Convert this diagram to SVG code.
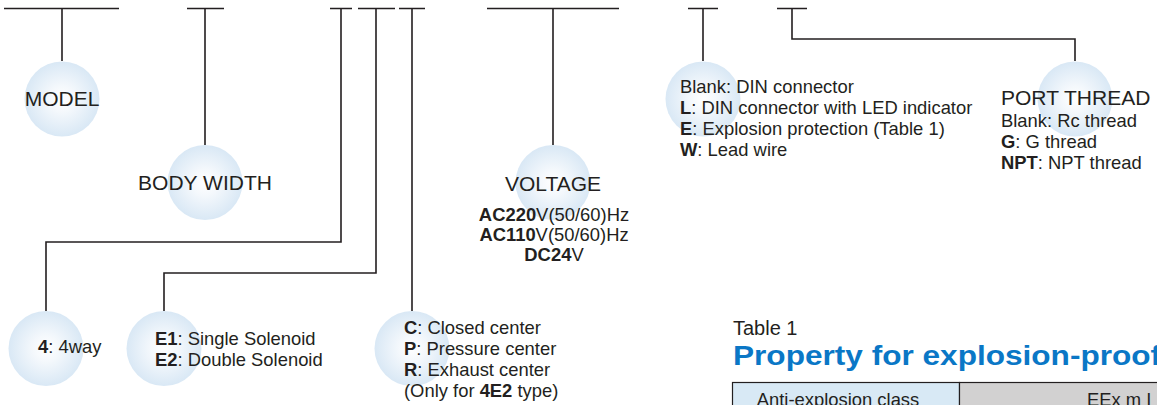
<svg xmlns="http://www.w3.org/2000/svg" width="1157" height="405" viewBox="0 0 1157 405">
<defs>
<radialGradient id="bub" cx="0.5" cy="0.5" r="0.5">
<stop offset="0" stop-color="#ffffff"/>
<stop offset="0.35" stop-color="#f4f8fc"/>
<stop offset="1" stop-color="#d9e8f5"/>
</radialGradient>
<style>
.ln{fill:none;stroke:#231f20;stroke-width:1.6}
.bub{fill:url(#bub)}
.lbl{font-family:"Liberation Sans",Arial,sans-serif;font-size:21px;fill:#231f20}
.txt{font-family:"Liberation Sans",Arial,sans-serif;font-size:18.4px;fill:#231f20}
.b{font-weight:bold}
.title{font-family:"Liberation Sans",Arial,sans-serif;font-size:27px;font-weight:bold;fill:#0a77c6}
</style>
</defs>
<rect width="1157" height="405" fill="#ffffff"/>

<g id="connectors">
<path class="ln" d="M4 8.5H119M62 8.5V61"/>
<path class="ln" d="M187 8.5H224M205 8.5V145"/>
<path class="ln" d="M330 8.5H352M341 8.5V242H46V311"/>
<path class="ln" d="M358 8.5H395M376 8.5V273H164V311"/>
<path class="ln" d="M399 8.5H425M412 8.5V311"/>
<path class="ln" d="M487 8.5H619M553 8.5V145"/>
<path class="ln" d="M688 8.5H718M703 8.5V61"/>
<path class="ln" d="M777 8.5H807M792 8.5V39H1075V61"/>
</g>

<g id="model">
<circle class="bub" cx="62" cy="99" r="37.5"/>
<text class="lbl" x="62" y="106" text-anchor="middle">MODEL</text>
</g>

<g id="body-width">
<circle class="bub" cx="205" cy="182.5" r="37.5"/>
<text class="lbl" x="205" y="190" text-anchor="middle">BODY WIDTH</text>
</g>

<g id="way">
<circle class="bub" cx="46" cy="348.5" r="37.5"/>
<text class="txt" x="38" y="353"><tspan class="b">4</tspan>: 4way</text>
</g>

<g id="solenoid">
<circle class="bub" cx="164" cy="348.5" r="37.5"/>
<text class="txt" x="155" y="344.5"><tspan class="b">E1</tspan>: Single Solenoid</text>
<text class="txt" x="155" y="365.5"><tspan class="b">E2</tspan>: Double Solenoid</text>
</g>

<g id="center">
<circle class="bub" cx="412" cy="348.5" r="37.5"/>
<text class="txt" x="404" y="333.5"><tspan class="b">C</tspan>: Closed center</text>
<text class="txt" x="404" y="354.5"><tspan class="b">P</tspan>: Pressure center</text>
<text class="txt" x="404" y="375.5"><tspan class="b">R</tspan>: Exhaust center</text>
<text class="txt" x="404" y="396.5">(Only for <tspan class="b">4E2</tspan> type)</text>
</g>

<g id="voltage">
<circle class="bub" cx="553" cy="182.5" r="37.5"/>
<text class="lbl" x="553" y="191" text-anchor="middle">VOLTAGE</text>
<text class="txt" x="554" y="220.5" text-anchor="middle"><tspan class="b">AC220</tspan>V(50/60)Hz</text>
<text class="txt" x="554" y="241" text-anchor="middle"><tspan class="b">AC110</tspan>V(50/60)Hz</text>
<text class="txt" x="554" y="261" text-anchor="middle"><tspan class="b">DC24</tspan>V</text>
</g>

<g id="connector-type">
<circle class="bub" cx="703" cy="99" r="37.5"/>
<text class="txt" x="680" y="93">Blank: DIN connector</text>
<text class="txt" x="680" y="114"><tspan class="b">L</tspan>: DIN connector with LED indicator</text>
<text class="txt" x="680" y="135"><tspan class="b">E</tspan>: Explosion protection (Table 1)</text>
<text class="txt" x="680" y="156"><tspan class="b">W</tspan>: Lead wire</text>
</g>

<g id="port-thread">
<circle class="bub" cx="1075" cy="99" r="37.5"/>
<text class="lbl" x="1001" y="105">PORT THREAD</text>
<text class="txt" x="1001" y="127">Blank: Rc thread</text>
<text class="txt" x="1001" y="148"><tspan class="b">G</tspan>: G thread</text>
<text class="txt" x="1001" y="169"><tspan class="b">NPT</tspan>: NPT thread</text>
</g>

<g id="table1">
<text class="lbl" x="733" y="334.5" style="font-size:20px">Table 1</text>
<text class="title" transform="translate(733,364.5) scale(1.17,1)">Property for explosion-proof</text>
<rect x="732.5" y="382.5" width="227" height="30" fill="#d8e9f5" stroke="#231f20" stroke-width="1.2"/>
<rect x="959.5" y="382.5" width="210" height="30" fill="#d2d1d1" stroke="#231f20" stroke-width="1.2"/>
<text class="txt" x="838" y="406" text-anchor="middle">Anti-explosion class</text>
<text class="txt" x="1087" y="406">EEx m I</text>
</g>
</svg>
